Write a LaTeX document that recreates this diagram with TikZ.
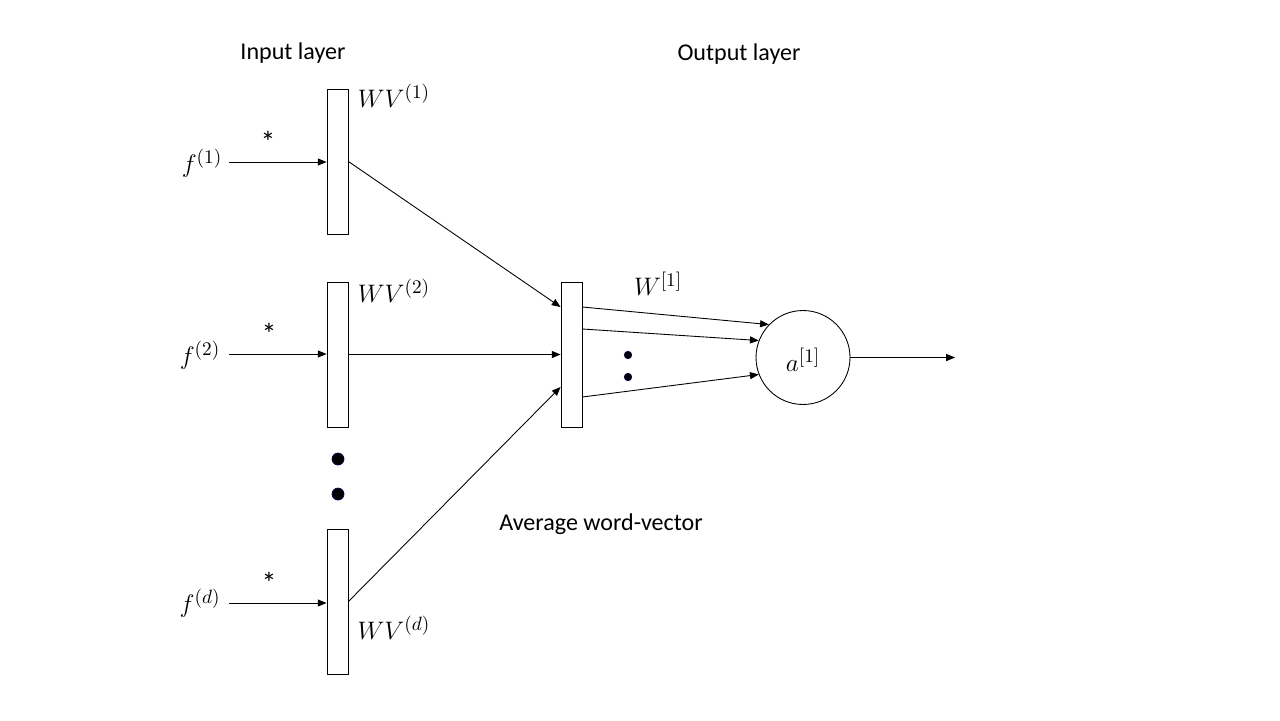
\documentclass[tikz,border=0pt]{standalone}
\usepackage{fontspec}
\setmainfont{Carlito}
\usetikzlibrary{arrows.meta,calc}
\begin{document}
\begin{tikzpicture}[x=0.02cm,y=-0.02cm,
  vbox/.style={draw,line width=0.5pt,minimum width=0.42cm,minimum height=2.9cm,inner sep=0pt},
  neuron/.style={draw,line width=0.5pt,circle,minimum size=1.88cm,inner sep=0pt},
  conn/.style={line width=0.5pt,-{Triangle[length=5pt,width=4pt]}},
  lbl/.style={font=\fontsize{13.7}{16}\selectfont},
  star/.style={font=\fontsize{17}{20}\selectfont},
  mth/.style={font=\fontsize{15.5}{18}\selectfont},
  bigdot/.style={circle,fill=black,draw=black!70!blue,minimum size=0.24cm,inner sep=0pt},
  smalldot/.style={circle,fill=black,draw=black!70!blue,minimum size=0.15cm,inner sep=0pt}]
\useasboundingbox (0,0) rectangle (1280,720);
% boxes
\node[vbox] (b1) at (337.5,161.5) {};
\node[vbox] (b2) at (337.5,354.5) {};
\node[vbox] (b3) at (337.5,601.5) {};
\node[vbox] (mid) at (571.5,354.5) {};
\node[neuron] (a) at (803,357.5) {};
% input labels
\node[mth] (f1) at (202,163) {$f^{(1)}$};
\node[mth] (f2) at (200,355) {$f^{(2)}$};
\node[mth] (fd) at (200,603) {$f^{(d)}$};
\node[star] (s1) at (268,142) {*};
\node[star] (s2) at (269,334) {*};
\node[star] (s3) at (269,583) {*};
\node[mth] (wv1) at (394,96) {$WV^{(1)}$};
\node[mth] (wv2) at (394,291) {$WV^{(2)}$};
\node[mth] (wvd) at (394,628) {$WV^{(d)}$};
\node[mth] (w1) at (658,284) {$W^{[1]}$};
\node[mth] (al) at (803,360) {$a^{[1]}$};
% text labels
\node[lbl] (inl) at (293,53) {Input layer};
\node[lbl] (outl) at (739,54) {Output layer};
\node[lbl] (avg) at (601,524) {Average word-vector};
% dots
\node[bigdot] (d1) at (338,459) {};
\node[bigdot] (d2) at (338,494) {};
\node[smalldot] (d3) at (628,355) {};
\node[smalldot] (d4) at (628,377) {};
% input arrows
\coordinate (i1) at (229,162);
\coordinate (i2) at (229,354);
\coordinate (i3) at (229,603);
\draw[conn] (i1) -- (i1 -| b1.west);
\draw[conn] (i2) -- (i2 -| b2.west);
\draw[conn] (i3) -- (i3 -| b3.west);
% to middle
\draw[conn] (b1.east) -- ([yshift=0.95cm]mid.west);
\draw[conn] (b2.east) -- (mid.west);
\draw[conn] (b3.east) -- ([yshift=-0.65cm]mid.west);
% to neuron
\draw[conn] ([yshift=0.95cm]mid.east) -- (a.136);
\draw[conn] ([yshift=0.51cm]mid.east) -- (a.159);
\draw[conn] ([yshift=-0.85cm]mid.east) -- (a.201);
% output
\coordinate (o) at (955,357.5);
\draw[conn] (a.east) -- (o);
\end{tikzpicture}
\end{document}
